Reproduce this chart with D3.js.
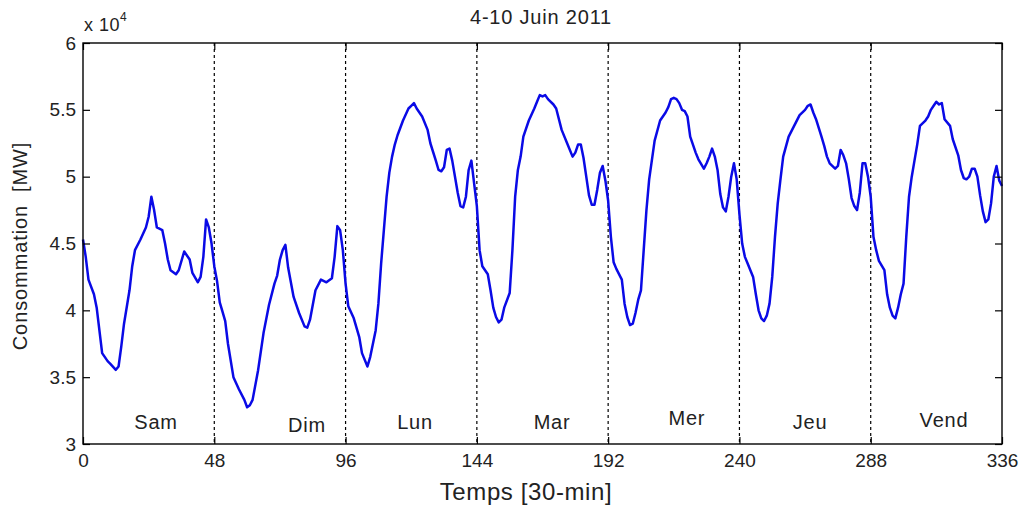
<!DOCTYPE html>
<html>
<head>
<meta charset="utf-8">
<style>
  body { margin: 0; background: #fff; }
  svg { display: block; }
  text { font-family: "Liberation Sans", Arial, sans-serif; fill: #222; }
</style>
</head>
<body>
<script src="https://cdn.jsdelivr.net/npm/d3@7"></script>
<script>
// half-hour index (0..336) and consumption in 10^4 MW
var temps = [0,1,2,4,5,6,7,9,10,12,13,14,15,17,18,19,21,23,24,25,26,27,29,30,31,32,34,35,37,39,40,42,43,44,45,46,47,48,
  49,50,51,52,53,55,57,59,60,61,62,64,66,68,70,71,72,73,74,75,77,79,81,82,83,85,87,89,91,92,93,94,95,96,
  97,99,101,102,104,105,106,107,108,109,110,111,112,113,114,115,117,119,120,121,122,124,126,127,129,130,131,132,133,134,135,137,138,139,140,141,142,143,144,
  145,146,148,149,150,151,152,153,154,156,157,158,159,160,161,163,165,166,167,168,169,170,172,173,175,177,179,180,181,182,183,184,185,186,187,188,189,190,191,192,
  193,194,195,197,198,199,200,201,202,203,204,205,206,207,209,211,213,214,215,216,217,218,219,220,221,222,224,225,227,228,229,230,231,232,233,234,235,236,237,238,239,240,
  241,242,243,245,246,247,248,249,250,251,252,253,254,255,256,258,260,262,264,265,266,267,268,270,271,272,273,275,276,277,278,279,280,281,282,283,284,285,286,287,288,
  289,290,291,293,294,295,296,297,298,299,300,301,302,303,304,305,306,308,309,310,311,312,313,314,315,317,318,320,321,322,323,324,325,326,327,328,329,330,331,332,333,334,335,336];
var conso = [4.53,4.40,4.23,4.12,4.02,3.85,3.68,3.62,3.60,3.555,3.58,3.73,3.90,4.15,4.33,4.45,4.53,4.62,4.70,4.85,4.75,4.62,4.60,4.50,4.38,4.30,4.27,4.30,4.44,4.38,4.28,4.21,4.25,4.40,4.68,4.62,4.50,4.33,
  4.22,4.06,3.99,3.92,3.75,3.50,3.41,3.33,3.275,3.29,3.33,3.55,3.83,4.04,4.20,4.26,4.38,4.45,4.49,4.32,4.10,3.98,3.88,3.87,3.93,4.15,4.23,4.21,4.24,4.40,4.63,4.60,4.45,4.20,
  4.03,3.94,3.80,3.68,3.58,3.65,3.75,3.85,4.05,4.35,4.60,4.85,5.03,5.15,5.24,5.31,5.42,5.51,5.53,5.55,5.51,5.45,5.35,5.25,5.12,5.05,5.04,5.07,5.20,5.21,5.12,4.88,4.78,4.77,4.85,5.05,5.12,4.95,4.78,
  4.45,4.33,4.27,4.15,4.02,3.95,3.91,3.93,4.02,4.13,4.45,4.85,5.05,5.15,5.30,5.42,5.51,5.56,5.61,5.60,5.61,5.58,5.54,5.51,5.35,5.25,5.15,5.18,5.24,5.24,5.14,5.00,4.86,4.79,4.79,4.90,5.03,5.08,4.97,4.82,
  4.55,4.36,4.31,4.23,4.05,3.95,3.89,3.90,3.98,4.08,4.15,4.45,4.75,4.98,5.27,5.42,5.48,5.52,5.58,5.59,5.58,5.55,5.50,5.49,5.45,5.30,5.18,5.13,5.06,5.10,5.15,5.21,5.15,5.05,4.87,4.77,4.74,4.85,5.00,5.10,4.98,4.72,
  4.50,4.40,4.35,4.25,4.12,4.00,3.94,3.92,3.96,4.05,4.25,4.55,4.80,4.98,5.15,5.30,5.38,5.46,5.50,5.53,5.54,5.48,5.43,5.30,5.23,5.15,5.10,5.06,5.08,5.20,5.16,5.10,4.98,4.84,4.78,4.75,4.88,5.10,5.10,5.00,4.85,
  4.55,4.45,4.37,4.30,4.12,4.02,3.96,3.94,4.02,4.12,4.20,4.55,4.85,5.00,5.12,5.24,5.38,5.42,5.45,5.50,5.53,5.56,5.54,5.55,5.43,5.38,5.28,5.16,5.05,4.99,4.98,5.00,5.06,5.06,5.00,4.86,4.74,4.66,4.68,4.80,5.00,5.08,4.97,4.93];

var xTicks = [0,48,96,144,192,240,288,336];
var yTicks = [3,3.5,4,4.5,5,5.5,6];
var dayBreaks = [48,96,144,192,240,288];
var jours = ["Sam","Dim","Lun","Mar","Mer","Jeu","Vend"];
var jourPos = [[26.7,3.165],[81.9,3.14],[121.4,3.165],[171.5,3.165],[220.8,3.195],[265.8,3.165],[314.8,3.18]];

var width = 1025, height = 505,
    mLeft = 83, mRight = 1002, mTop = 43, mBottom = 444;

var svg = d3.select("body").append("svg")
    .attr("width", width)
    .attr("height", height);

var x = d3.scaleLinear().domain([0,336]).range([mLeft,mRight]);
var y = d3.scaleLinear().domain([3,6]).range([mBottom,mTop]);

// day separators
svg.append("g").selectAll("line")
    .data(dayBreaks)
    .enter().append("line")
    .attr("x1", function(d) { return x(d); })
    .attr("x2", function(d) { return x(d); })
    .attr("y1", mTop).attr("y2", mBottom)
    .attr("stroke", "#000")
    .attr("stroke-width", 1.2)
    .attr("stroke-dasharray", "3,3");

// curve
var line = d3.line()
    .x(function(d, i) { return x(temps[i]); })
    .y(function(d) { return y(d); });

svg.append("path")
    .datum(conso)
    .attr("fill", "none")
    .attr("stroke", "#0a0ae6")
    .attr("stroke-width", 2.5)
    .attr("stroke-linejoin", "round")
    .attr("d", line);

// axes, ticks pointing inward on all four sides
function styleAxis(g) {
    g.select(".domain").remove();
    g.selectAll(".tick line").attr("stroke", "#000").attr("stroke-width", 1.2);
    g.selectAll("text").attr("fill", "#222").style("font-size", "19px")
        .style("font-family", "'Liberation Sans', Arial, sans-serif");
}

svg.append("g")
    .attr("transform", "translate(0," + mBottom + ")")
    .call(d3.axisBottom(x).tickValues(xTicks).tickSize(-7).tickPadding(10).tickFormat(d3.format("d")))
    .call(styleAxis);

svg.append("g")
    .attr("transform", "translate(0," + mTop + ")")
    .call(d3.axisTop(x).tickValues(xTicks).tickSize(-7).tickFormat(""))
    .call(styleAxis);

svg.append("g")
    .attr("transform", "translate(" + mLeft + ",0)")
    .call(d3.axisLeft(y).tickValues(yTicks).tickSize(-7).tickPadding(7).tickFormat(function(d) { return d; }))
    .call(styleAxis);

svg.append("g")
    .attr("transform", "translate(" + mRight + ",0)")
    .call(d3.axisRight(y).tickValues(yTicks).tickSize(-7).tickFormat(""))
    .call(styleAxis);

// frame
svg.append("rect")
    .attr("x", mLeft).attr("y", mTop)
    .attr("width", mRight - mLeft).attr("height", mBottom - mTop)
    .attr("fill", "none")
    .attr("stroke", "#000")
    .attr("stroke-width", 1.4);

// day names
svg.append("g").selectAll("text")
    .data(jours)
    .enter().append("text")
    .attr("x", function(d, i) { return x(jourPos[i][0]); })
    .attr("y", function(d, i) { return y(jourPos[i][1]); })
    .attr("text-anchor", "middle")
    .attr("dy", "0.35em")
    .style("font-size", "20px")
    .style("letter-spacing", "0.8px")
    .text(function(d) { return d; });

// exponent
var expo = svg.append("text")
    .attr("x", mLeft + 1).attr("y", 31)
    .style("font-size", "18px")
    .style("letter-spacing", "0.5px")
    .text("x 10");
expo.append("tspan")
    .attr("dy", -10)
    .style("font-size", "12px")
    .text("4");

// title and labels
svg.append("text")
    .attr("x", 541).attr("y", 24)
    .attr("text-anchor", "middle")
    .style("font-size", "20px")
    .style("letter-spacing", "0.8px")
    .text("4-10 Juin 2011");

svg.append("text")
    .attr("x", 526).attr("y", 500)
    .attr("text-anchor", "middle")
    .style("font-size", "24px")
    .style("letter-spacing", "0.6px")
    .text("Temps [30-min]");

svg.append("text")
    .attr("transform", "translate(27,246) rotate(-90)")
    .attr("text-anchor", "middle")
    .style("font-size", "20px")
    .style("letter-spacing", "0.9px")
    .style("white-space", "pre")
    .text("Consommation  [MW]");
</script>
</body>
</html>
